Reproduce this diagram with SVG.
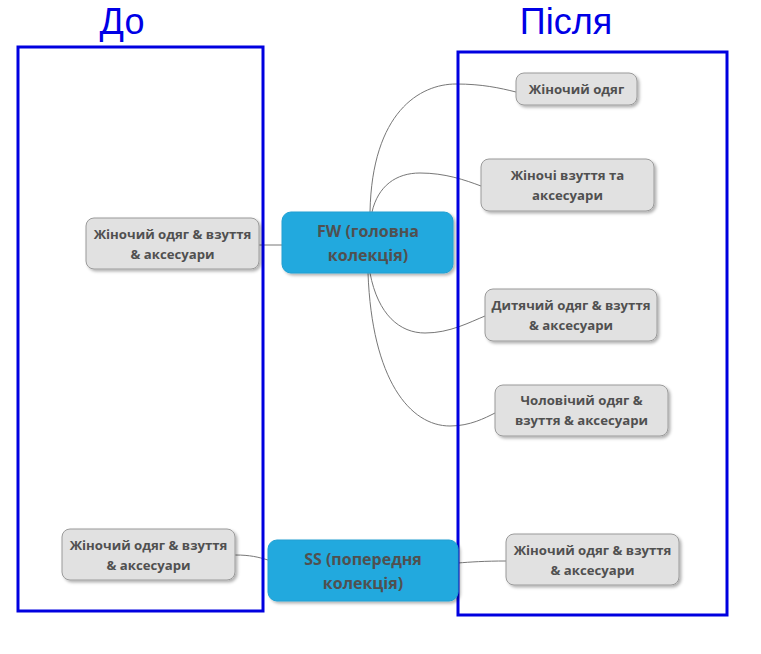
<svg xmlns="http://www.w3.org/2000/svg" width="761" height="654" viewBox="0 0 761 654">
<style>
.title{font-family:"Liberation Sans",Arial,sans-serif;font-size:36px;fill:#0000e6;text-anchor:middle}
.frame{fill:none;stroke:#0000e0;stroke-width:3}
.gray{fill:#e1e1e1;stroke:#9a9a9a;stroke-width:1;filter:url(#sh)}
.blue{fill:#22a9de;stroke:#1e9fd2;stroke-width:1;filter:url(#sh)}
.t{font-family:"Open Sans","Noto Sans",sans-serif;font-weight:bold;font-size:13.2px;fill:#505050;text-anchor:middle}
.tb{font-family:"Open Sans","Noto Sans",sans-serif;font-weight:bold;font-size:16px;fill:#505050;text-anchor:middle}
.c{fill:none;stroke:#777;stroke-width:1}
</style>
<defs>
<filter id="sh" x="-10%" y="-20%" width="125%" height="150%">
<feDropShadow dx="2" dy="2" stdDeviation="1.5" flood-color="#000" flood-opacity="0.3"/>
</filter>
</defs>
<rect width="761" height="654" fill="#fff"/>
<text class="title" x="122" y="34">До</text>
<text class="title" x="566" y="34">Після</text>
<g id="connectors">
<path class="c" d="M259,245 L282,245"/>
<path class="c" d="M370,212 C372,112 420,84 456,84 C482,84 500,88 516,92"/>
<path class="c" d="M372,212 C378,186 396,173 420,173 C445,173 465,180 481,186"/>
<path class="c" d="M370,273 C378,315 400,333 425,333 C450,333 470,322 485,316"/>
<path class="c" d="M368,273 C372,380 410,426 450,426 C470,426 485,418 495,413"/>
<path class="c" d="M235,555 C250,555 258,557 268,560"/>
<path class="c" d="M458,563 C470,562 485,561 506,561"/>
</g>
<g id="before-frame"><rect class="frame" x="18" y="47" width="245" height="564"/></g>
<g id="after-frame"><rect class="frame" x="458" y="52" width="269" height="563"/></g>
<g id="fw-before">
<rect class="gray" x="86" y="218" width="173" height="51" rx="8"/>
<text class="t" x="172.5" y="239">Жіночий одяг &amp; взуття</text>
<text class="t" x="172.5" y="259">&amp; аксесуари</text>
</g>
<g id="fw">
<rect class="blue" x="282" y="212" width="171" height="61" rx="9"/>
<text class="tb" x="368" y="237">FW (головна</text>
<text class="tb" x="368" y="261">колекція)</text>
</g>
<g id="fw-women">
<rect class="gray" x="516" y="73" width="121" height="32" rx="8"/>
<text class="t" x="576.5" y="94">Жіночий одяг</text>
</g>
<g id="fw-shoes">
<rect class="gray" x="481" y="159" width="173" height="52" rx="8"/>
<text class="t" x="567.5" y="180">Жіночі взуття та</text>
<text class="t" x="567.5" y="200">аксесуари</text>
</g>
<g id="fw-kids">
<rect class="gray" x="485" y="289" width="172" height="52" rx="8"/>
<text class="t" x="571" y="310">Дитячий одяг &amp; взуття</text>
<text class="t" x="571" y="330">&amp; аксесуари</text>
</g>
<g id="fw-men">
<rect class="gray" x="495" y="385" width="173" height="51" rx="8"/>
<text class="t" x="581.5" y="405">Чоловічий одяг &amp;</text>
<text class="t" x="581.5" y="425">взуття &amp; аксесуари</text>
</g>
<g id="ss">
<rect class="blue" x="268" y="540" width="190" height="61" rx="9"/>
<text class="tb" x="363" y="565">SS (попередня</text>
<text class="tb" x="363" y="589">колекція)</text>
</g>
<g id="ss-before">
<rect class="gray" x="62" y="529" width="173" height="51" rx="8"/>
<text class="t" x="148.5" y="550">Жіночий одяг &amp; взуття</text>
<text class="t" x="148.5" y="570">&amp; аксесуари</text>
</g>
<g id="ss-after">
<rect class="gray" x="506" y="534" width="173" height="51" rx="8"/>
<text class="t" x="592.5" y="555">Жіночий одяг &amp; взуття</text>
<text class="t" x="592.5" y="575">&amp; аксесуари</text>
</g>
</svg>
